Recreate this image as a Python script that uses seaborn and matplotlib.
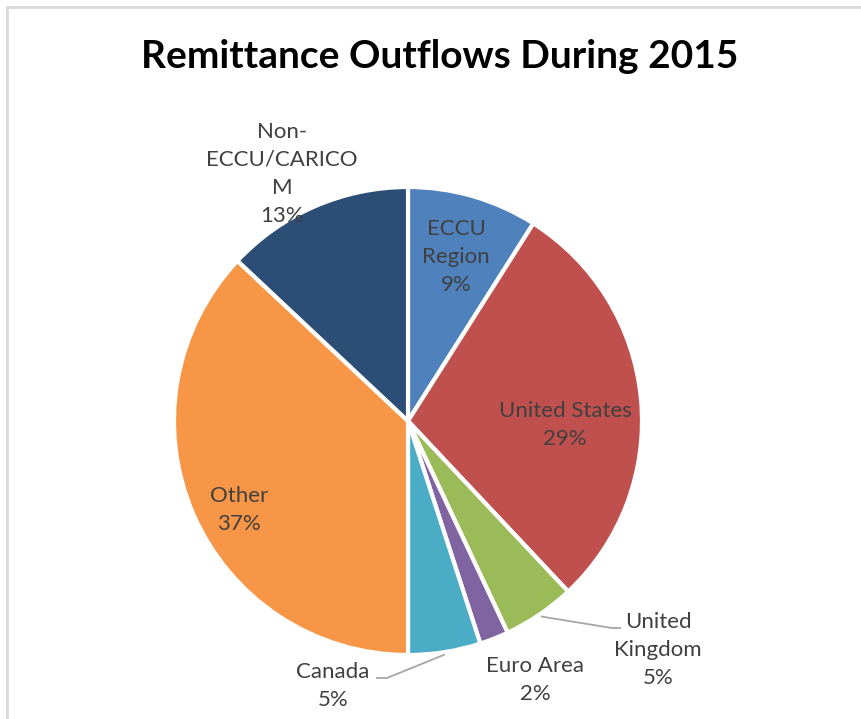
import numpy as np
import matplotlib
matplotlib.use("Agg")
import matplotlib.pyplot as plt
from matplotlib.patches import Rectangle
import seaborn as sns

# Remittance outflows by destination, 2015 (share of total, %)
categories = ["ECCU Region", "United States", "United Kingdom", "Euro Area",
              "Canada", "Other", "Non-ECCU/CARICOM"]
shares = [9, 29, 5, 2, 5, 37, 13]
label_texts = ["ECCU\nRegion", "United States", "United\nKingdom", "Euro Area",
               "Canada", "Other", "Non-\nECCU/CARICO\nM"]
colors = ["#4F81BD", "#C0504D", "#9BBB59", "#8064A2", "#4BACC6", "#F79646", "#2C4D75"]

sns.set_theme(style="white")
plt.rcParams["font.family"] = ["Lato", "DejaVu Sans"]

W, H = 861, 719
fig = plt.figure(figsize=(W / 100, H / 100), dpi=100)
fig.patch.set_facecolor("white")

# pie geometry in pixels
cx, cy, R = 408, 421, 234
ax = fig.add_axes([0, 0, 1, 1])

wedges, _ = ax.pie(shares, colors=colors, startangle=90, counterclock=False,
                   radius=1.0, wedgeprops=dict(edgecolor="white", linewidth=3))

ax.set_xlim(-cx / R, (W - cx) / R)
ax.set_ylim(-(H - cy) / R, cy / R)
ax.set_aspect("equal")
ax.axis("off")


def px(x, y):
    """pixel position -> data coordinates"""
    return (x - cx) / R, (cy - y) / R


label_color = "#404040"
fs = 16
# text anchor (pixels) for each slice label
label_pos = [(456, 257), (565, 425), (658, 650), (535, 680),
             (333, 686), (239, 510), (282, 174)]
for name, txt, val, (lx, ly) in zip(categories, label_texts, shares, label_pos):
    x, y = px(lx, ly)
    ax.text(x, y, f"{txt}\n{val}%", ha="center", va="center", fontsize=fs,
            color=label_color, linespacing=1.5)

# leader lines for the small outer labels
cum = np.cumsum([0] + shares)
mid = {categories[i]: (cum[i] + cum[i + 1]) / 2 / 100 * 360 for i in range(len(shares))}
leaders = {"United Kingdom": [(612, 628), (621, 628)],
           "Canada": [(387, 678), (376, 678)]}
for name, pts in leaders.items():
    a = np.deg2rad(mid[name])
    sx, sy = 1.01 * np.sin(a), 1.01 * np.cos(a)
    xs = [sx] + [px(*p)[0] for p in pts]
    ys = [sy] + [px(*p)[1] for p in pts]
    ax.plot(xs, ys, color="#A6A6A6", linewidth=1.3, solid_capstyle="butt")

fig.text(440 / W, 1 - 56 / H, "Remittance Outflows During 2015", ha="center",
         va="center", fontsize=28, fontweight="bold", color="black")

# chart area border
fig.patches.append(Rectangle((7, -20), W + 20, H - 7 + 20, transform=None,
                             fill=False, edgecolor="#D9D9D9", linewidth=2))

fig.savefig("out.png", dpi=100, facecolor="white")
